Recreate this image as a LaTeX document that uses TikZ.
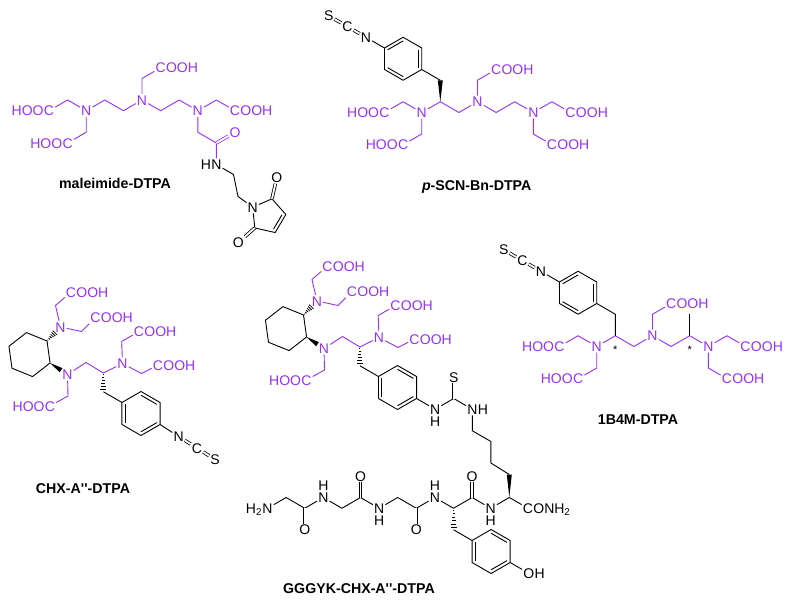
\documentclass[tikz,border=0pt]{standalone}
\usepackage{fontspec}
\setmainfont{Liberation Sans}
\usetikzlibrary{calc,positioning}
\definecolor{dtpa}{RGB}{150,48,250}
\newcommand{\atomfont}{\fontsize{14}{16}\selectfont}
\tikzset{
  atom/.style={inner sep=1pt, text height=10pt, text depth=0pt, font=\atomfont},
  hatom/.style={atom, inner ysep=0pt},
  bond/.style={line width=0.9pt, line join=round},
  ringbond/.style={line width=0.9pt, line join=round},
  dbl/.style={double, double distance=1.8pt, line width=0.8pt},
  molname/.style={inner sep=1pt, text height=10pt, text depth=0pt, font=\fontsize{14.2}{17}\selectfont\bfseries},
  astmark/.style={inner sep=0pt, font=\fontsize{11}{12}\selectfont}
}
\newcommand{\wedgebond}[2]{\fill (#1) -- ($(#2)!2.5pt!90:(#1)$) -- ($(#2)!2.5pt!-90:(#1)$) -- cycle;}
\newcommand{\hashbond}[2]{\foreach \t/\w in {0.1/0.5pt,0.26/1pt,0.42/1.5pt,0.58/2pt,0.74/2.5pt,0.9/3pt}{\coordinate (hb) at ($(#1)!\t!(#2)$); \draw[line width=0.8pt] ($(hb)!\w!90:(#2)$) -- ($(hb)!\w!-90:(#2)$);}}
\newcommand{\chxdtpa}[1]{%
    \begin{scope}[shift={(29.5, 354.6)}]
        \foreach \i in {0,...,5} \coordinate (#1k\i) at (\i*60-37.9:22.2);
    \end{scope}
    \draw[ringbond] (#1k0) -- (#1k1) -- (#1k2) -- (#1k3) -- (#1k4) -- (#1k5) -- cycle;
    \node[atom,text=dtpa] (#1N1) at (60.5, 327) {N};
    \node[atom,text=dtpa] (#1N2) at (67.5, 374.5) {N};
    \node[atom,text=dtpa] (#1N3) at (122.5, 363.5) {N};
    \coordinate (#1c1) at (55.5, 305.5);
    \coordinate (#1c2) at (81.5, 331.5);
    \coordinate (#1c3) at (86, 362.5);
    \coordinate (#1c4) at (103.4, 373);
    \coordinate (#1c5) at (103.4, 391.75);
    \coordinate (#1c6) at (68, 396);
    \coordinate (#1c7) at (121.7, 341.5);
    \coordinate (#1c8) at (141.5, 373.5);
    \node[atom,text=dtpa] (#1C1) at (71, 292) {C};
    \node[atom,text=dtpa,right=-2pt of #1C1] (#1C1r) {OOH};
    \node[atom,text=dtpa] (#1C2) at (95.5, 317.5) {C};
    \node[atom,text=dtpa,right=-2pt of #1C2] (#1C2r) {OOH};
    \node[atom,text=dtpa] (#1C3) at (50, 406) {C};
    \node[atom,text=dtpa,left=-2pt of #1C3] (#1C3l) {HOO};
    \node[atom,text=dtpa] (#1C4) at (139, 331.5) {C};
    \node[atom,text=dtpa,right=-2pt of #1C4] (#1C4r) {OOH};
    \node[atom,text=dtpa] (#1C5) at (158, 365) {C};
    \node[atom,text=dtpa,right=-2pt of #1C5] (#1C5r) {OOH};
    \coordinate (#1h1) at ($(#1k0)!0.65!(#1N1)$);
    \coordinate (#1w1) at ($(#1k1)!0.63!(#1N2)$);
    \hashbond{#1k0}{#1h1}
    \wedgebond{#1k1}{#1w1}
    \draw[bond,dtpa] (#1N1) to (#1c1) to (#1C1);
    \draw[bond,dtpa] (#1N1) to (#1c2) to (#1C2);
    \draw[bond,dtpa] (#1C3) to (#1c6) to (#1N2) to (#1c3) to (#1c4) to (#1N3) to (#1c8) to (#1C5);
    \draw[bond,dtpa] (#1N3) to (#1c7) to (#1C4);
    \hashbond{#1c4}{#1c5}
    \begin{scope}[shift={(141, 413.5)}]
        \coordinate (#1bc) at (0, 0);
        \foreach \i in {0,...,5} \coordinate (#1b\i) at (\i*60+30:22);
    \end{scope}
    \draw[bond] (#1c5) to (#1b3);
    \draw[ringbond] (#1b0) -- (#1b1) -- (#1b2) -- (#1b3) -- (#1b4) -- (#1b5) -- cycle;
    \foreach \p/\q in {0/1,2/3,4/5} \draw[bond] ($(#1b\p)!0.17!(#1bc)$) -- ($(#1b\q)!0.17!(#1bc)$);
}
\begin{document}
\begin{tikzpicture}[x=1pt,y=-1pt]
    \useasboundingbox (0, 0) rectangle (791, 602);

        \node[atom,text=dtpa] (aN1) at (86.2, 110.75) {N};
        \node[atom,text=dtpa] (aN2) at (142, 100) {N};
        \node[atom,text=dtpa] (aN3) at (197.8, 110.75) {N};
        \coordinate (a1) at (104.8, 100);
        \coordinate (a2) at (123.4, 110.75);
        \coordinate (a3) at (160.6, 110.75);
        \coordinate (a4) at (179.2, 100);
        \coordinate (a5) at (67.6, 100);
        \coordinate (a6) at (86.2, 132.25);
        \coordinate (a7) at (142, 78.5);
        \coordinate (a8) at (216.4, 100);
        \coordinate (a9) at (197.8, 132.25);
        \coordinate (a10) at (216.4, 143);
        \node[atom,text=dtpa] (aC1) at (49, 110.75) {C};
        \node[atom,text=dtpa,left=-2pt of aC1] (aC1l) {HOO};
        \node[atom,text=dtpa] (aC2) at (67.6, 143) {C};
        \node[atom,text=dtpa,left=-2pt of aC2] (aC2l) {HOO};
        \node[atom,text=dtpa] (aC3) at (160.6, 67.75) {C};
        \node[atom,text=dtpa,right=-2pt of aC3] (aC3r) {OOH};
        \node[atom,text=dtpa] (aC4) at (235, 110.75) {C};
        \node[atom,text=dtpa,right=-2pt of aC4] (aC4r) {OOH};
        \node[atom,text=dtpa] (aO1) at (235, 132.25) {O};
        \node[atom] (aN4) at (216.4, 164.5) {N};
        \node[atom,left=-2pt of aN4] (aH4) {H};
        \draw[bond,dtpa] (aC1) to (a5) to (aN1) to (a1) to (a2) to (aN2) to (a3) to (a4) to (aN3) to (a8) to (aC4);
        \draw[bond,dtpa] (aN1) to (a6) to (aC2);
        \draw[bond,dtpa] (aN2) to (a7) to (aC3);
        \draw[bond,dtpa] (aN3) to (a9) to (a10) to (aN4);
        \draw[dbl,dtpa] (a10) to (aO1);
        \coordinate (a11) at (233.5, 174.5);
        \coordinate (a12) at (238, 196.5);
        \begin{scope}[shift={(268.1, 216.2)}]
            \coordinate (amc) at (0, 0);
            \node[atom] (aN5) at (210.6:17.8) {N};
            \foreach \i in {1,...,4} \coordinate (am\i) at (210.6+\i*72:17.8);
            \node[atom] (aO2) at (282.6:39.7) {O};
            \node[atom] (aO3) at (138.6:39.7) {O};
        \end{scope}
        \draw[bond] (aN4) to (a11) to (a12) to (aN5) to (am1) to (am2) to (am3) to (am4) to (aN5);
        \draw[bond] ($(am2)!0.22!(amc)$) to ($(am3)!0.22!(amc)$);
        \draw[dbl] (am1) to (aO2);
        \draw[dbl] (am4) to (aO3);
        \node[molname] (alabel) at (115, 183) {maleimide-DTPA};

        \node[atom,text=dtpa] (bN1) at (421.7, 112.5) {N};
        \node[atom,text=dtpa] (bN2) at (477.5, 101.75) {N};
        \node[atom,text=dtpa] (bN3) at (533.3, 112.5) {N};
        \coordinate (b1) at (440.3, 101.75);
        \coordinate (b2) at (458.9, 112.5);
        \coordinate (b3) at (496.1, 112.5);
        \coordinate (b4) at (514.7, 101.75);
        \coordinate (b5) at (403.1, 101.75);
        \coordinate (b6) at (421.7, 134);
        \coordinate (b7) at (477.5, 80.25);
        \coordinate (b8) at (551.9, 101.75);
        \coordinate (b9) at (533.3, 134);
        \coordinate (b10) at (440.3, 80.25);
        \node[atom,text=dtpa] (bC1) at (384.5, 112.5) {C};
        \node[atom,text=dtpa,left=-2pt of bC1] (bC1l) {HOO};
        \node[atom,text=dtpa] (bC2) at (403.1, 144.75) {C};
        \node[atom,text=dtpa,left=-2pt of bC2] (bC2l) {HOO};
        \node[atom,text=dtpa] (bC3) at (496.1, 69.5) {C};
        \node[atom,text=dtpa,right=-2pt of bC3] (bC3r) {OOH};
        \node[atom,text=dtpa] (bC4) at (570.5, 112.5) {C};
        \node[atom,text=dtpa,right=-2pt of bC4] (bC4r) {OOH};
        \node[atom,text=dtpa] (bC5) at (551.9, 144.75) {C};
        \node[atom,text=dtpa,right=-2pt of bC5] (bC5r) {OOH};
        \draw[bond,dtpa] (bC1) to (b5) to (bN1) to (b1) to (b2) to (bN2) to (b3) to (b4) to (bN3) to (b8) to (bC4);
        \draw[bond,dtpa] (bN1) to (b6) to (bC2);
        \draw[bond,dtpa] (bN2) to (b7) to (bC3);
        \draw[bond,dtpa] (bN3) to (b9) to (bC5);
        \wedgebond{b1}{b10}
        \begin{scope}[shift={(403.1, 58.75)}]
            \coordinate (brc) at (0, 0);
            \foreach \i in {0,...,5} \coordinate (br\i) at (\i*60+30:21.5);
        \end{scope}
        \draw[bond] (b10) to (br0);
        \draw[ringbond] (br0) -- (br1) -- (br2) -- (br3) -- (br4) -- (br5) -- cycle;
        \foreach \p/\q in {5/0,1/2,3/4} \draw[bond] ($(br\p)!0.17!(brc)$) -- ($(br\q)!0.17!(brc)$);
        \node[atom] (bN4) at (365.9, 37.25) {N};
        \node[atom] (bC6) at (347.3, 26.5) {C};
        \node[atom] (bS) at (328.7, 15.75) {S};
        \draw[bond] (br3) to (bN4);
        \draw[dbl] (bN4) to (bC6);
        \draw[dbl] (bC6) to (bS);
        \node[molname] (blabel) at (476.7, 185) {\textit{p}-SCN-Bn-DTPA};

        \chxdtpa{c}
        \node[atom] (cN4) at (178.6, 436.5) {N};
        \node[atom] (cC6) at (197, 448) {C};
        \node[atom] (cS) at (215, 459.5) {S};
        \draw[bond] (cb0) to (cN4);
        \draw[dbl] (cN4) to (cC6);
        \draw[dbl] (cC6) to (cS);
        \node[molname] (clabel) at (83, 488) {CHX-A\textquotesingle\textquotesingle-DTPA};

        \begin{scope}[shift={(256.5, -26)}]
            \chxdtpa{g}
        \end{scope}
        \node[atom] (gNa) at (435.1, 409.25) {N};
        \node[hatom,below=1pt of gNa] (gHa) {H};
        \coordinate (gt) at (453.7, 398.5);
        \node[atom] (gS) at (453.7, 377) {S};
        \node[atom] (gNb) at (472.3, 409.25) {N};
        \node[atom,right=-2pt of gNb] (gHb) {H};
        \coordinate (gd1) at (472.3, 430.75);
        \coordinate (gd2) at (490.9, 441.5);
        \coordinate (gd3) at (490.9, 463);
        \coordinate (gd4) at (509.3, 474.5);
        \draw[bond] (gb0) to (gNa) to (gt) to (gNb) to (gd1) to (gd2) to (gd3) to (gd4);
        \draw[dbl] (gt) to (gS);

        \node[atom] (gN0) at (267.5, 508.25) {N};
        \node[atom,left=-2pt of gN0] (gH0) {H\textsubscript{2}};
        \coordinate (gp1) at (286.1, 497.5);
        \coordinate (gp2) at (304.7, 508.25);
        \node[atom] (gO1) at (304.7, 529.75) {O};
        \node[atom] (gN3) at (323.3, 497.5) {N};
        \node[hatom,above=1pt of gN3] (gH3) {H};
        \coordinate (gp4) at (341.9, 508.25);
        \coordinate (gp5) at (360.5, 497.5);
        \node[atom] (gO2) at (360.5, 476) {O};
        \node[atom] (gN6) at (379.1, 508.25) {N};
        \node[hatom,below=1pt of gN6] (gH6) {H};
        \coordinate (gp7) at (397.7, 497.5);
        \coordinate (gp8) at (416.3, 508.25);
        \node[atom] (gO3) at (416.3, 529.75) {O};
        \node[atom] (gN9) at (434.9, 497.5) {N};
        \node[hatom,above=1pt of gN9] (gH9) {H};
        \coordinate (gp10) at (453.5, 508.25);
        \coordinate (gp11) at (472.1, 497.5);
        \node[atom] (gO4) at (472.1, 476) {O};
        \node[atom] (gN12) at (490.7, 508.25) {N};
        \node[hatom,below=1pt of gN12] (gH12) {H};
        \coordinate (gp13) at (509.3, 497.5);
        \node[atom] (gC7) at (527.9, 508.25) {C};
        \node[atom,right=-2pt of gC7] (gC7r) {ONH\textsubscript{2}};
        \draw[bond] (gN0) to (gp1) to (gp2) to (gN3) to (gp4) to (gp5) to (gN6) to (gp7) to (gp8) to (gN9) to (gp10) to (gp11) to (gN12) to (gp13) to (gC7);
        \draw[dbl] (gp2) to (gO1);
        \draw[dbl] (gp5) to (gO2);
        \draw[dbl] (gp8) to (gO3);
        \draw[dbl] (gp11) to (gO4);
        \wedgebond{gp13}{gd4}

        \coordinate (gyb) at (453.5, 529.75);
        \hashbond{gp10}{gyb}
        \begin{scope}[shift={(491.1, 551.5)}]
            \coordinate (gyc) at (0, 0);
            \foreach \i in {0,...,5} \coordinate (gy\i) at (\i*60+30:22);
        \end{scope}
        \draw[bond] (gyb) to (gy3);
        \draw[ringbond] (gy0) -- (gy1) -- (gy2) -- (gy3) -- (gy4) -- (gy5) -- cycle;
        \foreach \p/\q in {0/1,2/3,4/5} \draw[bond] ($(gy\p)!0.17!(gyc)$) -- ($(gy\q)!0.17!(gyc)$);
        \node[atom] (gO5) at (528.7, 573.25) {O};
        \node[atom,right=-2pt of gO5] (gH5) {H};
        \draw[bond] (gy0) to (gO5);
        \node[molname] (glabel) at (359, 588) {GGGYK-CHX-A\textquotesingle\textquotesingle-DTPA};

        \node[atom,text=dtpa] (eN1) at (596.7, 346.5) {N};
        \node[atom,text=dtpa] (eN2) at (652.5, 335.75) {N};
        \node[atom,text=dtpa] (eN3) at (708.3, 346.5) {N};
        \coordinate (e1) at (615.3, 335.75);
        \coordinate (e2) at (633.9, 346.5);
        \coordinate (e3) at (671.1, 346.5);
        \coordinate (e4) at (689.7, 335.75);
        \coordinate (e5) at (689.7, 314.25);
        \coordinate (e6) at (578.1, 335.75);
        \coordinate (e7) at (596.7, 368);
        \coordinate (e8) at (652.5, 314.25);
        \coordinate (e9) at (726.9, 335.75);
        \coordinate (e10) at (708.3, 368);
        \coordinate (e11) at (615.3, 314.25);
        \node[atom,text=dtpa] (eC1) at (559.5, 346.5) {C};
        \node[atom,text=dtpa,left=-2pt of eC1] (eC1l) {HOO};
        \node[atom,text=dtpa] (eC2) at (578.1, 378.75) {C};
        \node[atom,text=dtpa,left=-2pt of eC2] (eC2l) {HOO};
        \node[atom,text=dtpa] (eC3) at (671.1, 303.5) {C};
        \node[atom,text=dtpa,right=-2pt of eC3] (eC3r) {OOH};
        \node[atom,text=dtpa] (eC4) at (745.5, 346.5) {C};
        \node[atom,text=dtpa,right=-2pt of eC4] (eC4r) {OOH};
        \node[atom,text=dtpa] (eC5) at (726.9, 378.75) {C};
        \node[atom,text=dtpa,right=-2pt of eC5] (eC5r) {OOH};
        \draw[bond,dtpa] (eC1) to (e6) to (eN1) to (e1) to (e2) to (eN2) to (e3) to (e4) to (eN3) to (e9) to (eC4);
        \draw[bond,dtpa] (eN1) to (e7) to (eC2);
        \draw[bond,dtpa] (eN2) to (e8) to (eC3);
        \draw[bond,dtpa] (eN3) to (e10) to (eC5);
        \draw[bond] (e4) to (e5);
        \node[astmark] (es1) at (615.3, 349.5) {*};
        \node[astmark] (es2) at (689.7, 349.5) {*};
        \begin{scope}[shift={(578.1, 292.75)}]
            \coordinate (erc) at (0, 0);
            \foreach \i in {0,...,5} \coordinate (er\i) at (\i*60+30:21.5);
        \end{scope}
        \draw[bond] (e1) to (e11) to (er0);
        \draw[ringbond] (er0) -- (er1) -- (er2) -- (er3) -- (er4) -- (er5) -- cycle;
        \foreach \p/\q in {5/0,1/2,3/4} \draw[bond] ($(er\p)!0.17!(erc)$) -- ($(er\q)!0.17!(erc)$);
        \node[atom] (eN4) at (540.9, 271.25) {N};
        \node[atom] (eC6) at (522.3, 260.5) {C};
        \node[atom] (eS) at (503.7, 249.75) {S};
        \draw[bond] (er3) to (eN4);
        \draw[dbl] (eN4) to (eC6);
        \draw[dbl] (eC6) to (eS);
        \node[molname] (elabel) at (638, 419) {1B4M-DTPA};

\end{tikzpicture}
\end{document}
